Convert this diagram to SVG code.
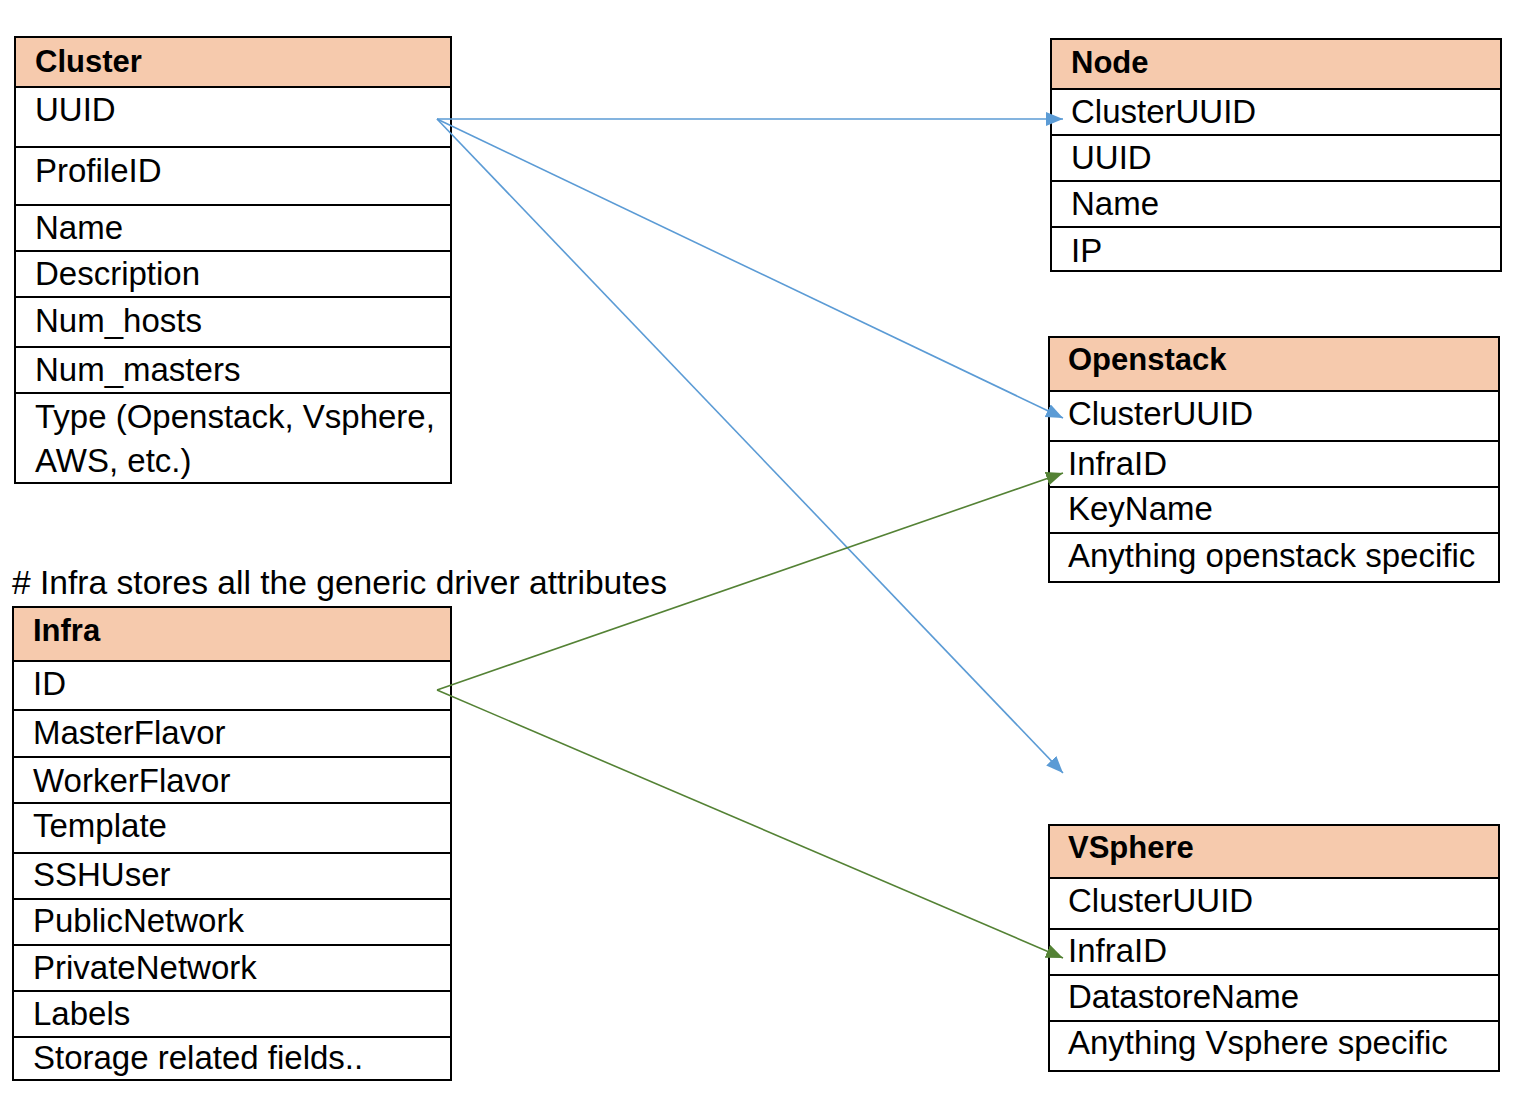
<svg xmlns="http://www.w3.org/2000/svg" width="1518" height="1096" viewBox="0 0 1518 1096">
<defs>
<style>
.hdr{fill:#F6CAAD;stroke:none}
.box{fill:none;stroke:#000;stroke-width:2}
.sep{stroke:#000;stroke-width:2}
text{font-family:"Liberation Sans",Arial,sans-serif;font-size:33px;fill:#000}
.t{font-weight:bold;font-size:31px}
.blue{stroke:#5B9BD5;stroke-width:1.6;fill:none}
.green{stroke:#548235;stroke-width:1.6;fill:none}
</style>
<marker id="ab" markerUnits="userSpaceOnUse" markerWidth="19" markerHeight="15" refX="17" refY="7" orient="auto"><path d="M0,0 L17,7 L0,14 z" fill="#5B9BD5"/></marker>
<marker id="ag" markerUnits="userSpaceOnUse" markerWidth="19" markerHeight="15" refX="17" refY="7" orient="auto"><path d="M0,0 L17,7 L0,14 z" fill="#548235"/></marker>
</defs>
<rect width="1518" height="1096" fill="#fff"/>

<g id="cluster">
<rect class="hdr" x="15" y="37" width="436" height="50"/>
<rect class="box" x="15" y="37" width="436" height="446"/>
<path class="sep" d="M15,87H451M15,147H451M15,205H451M15,251H451M15,297H451M15,347H451M15,393H451"/>
<text class="t" x="35" y="72">Cluster</text>
<text x="35" y="121">UUID</text>
<text x="35" y="182">ProfileID</text>
<text x="35" y="239">Name</text>
<text x="35" y="285">Description</text>
<text x="35" y="332">Num_hosts</text>
<text x="35" y="381">Num_masters</text>
<text x="35" y="428">Type (Openstack, Vsphere,</text>
<text x="35" y="472">AWS, etc.)</text>
</g>

<g id="node">
<rect class="hdr" x="1051" y="39" width="450" height="50"/>
<rect class="box" x="1051" y="39" width="450" height="232"/>
<path class="sep" d="M1051,89H1501M1051,135H1501M1051,181H1501M1051,227H1501"/>
<text class="t" x="1071" y="73">Node</text>
<text x="1071" y="123">ClusterUUID</text>
<text x="1071" y="169">UUID</text>
<text x="1071" y="215">Name</text>
<text x="1071" y="262">IP</text>
</g>

<g id="openstack">
<rect class="hdr" x="1049" y="337" width="450" height="54"/>
<rect class="box" x="1049" y="337" width="450" height="245"/>
<path class="sep" d="M1049,391H1499M1049,441H1499M1049,487H1499M1049,533H1499"/>
<text class="t" x="1068" y="370">Openstack</text>
<text x="1068" y="425">ClusterUUID</text>
<text x="1068" y="475">InfraID</text>
<text x="1068" y="520">KeyName</text>
<text x="1068" y="567">Anything openstack specific</text>
</g>

<g id="comment">
<text x="12" y="594" style="font-size:33.6px"># Infra stores all the generic driver attributes</text>
</g>

<g id="infra">
<rect class="hdr" x="13" y="607" width="438" height="54"/>
<rect class="box" x="13" y="607" width="438" height="473"/>
<path class="sep" d="M13,661H451M13,710H451M13,757H451M13,803H451M13,853H451M13,899H451M13,945H451M13,991H451M13,1037H451"/>
<text class="t" x="33" y="641">Infra</text>
<text x="33" y="695">ID</text>
<text x="33" y="744">MasterFlavor</text>
<text x="33" y="792">WorkerFlavor</text>
<text x="33" y="837">Template</text>
<text x="33" y="886">SSHUser</text>
<text x="33" y="932">PublicNetwork</text>
<text x="33" y="979">PrivateNetwork</text>
<text x="33" y="1025">Labels</text>
<text x="33" y="1069">Storage related fields..</text>
</g>

<g id="vsphere">
<rect class="hdr" x="1049" y="825" width="450" height="53"/>
<rect class="box" x="1049" y="825" width="450" height="246"/>
<path class="sep" d="M1049,878H1499M1049,929H1499M1049,975H1499M1049,1021H1499"/>
<text class="t" x="1068" y="858">VSphere</text>
<text x="1068" y="912">ClusterUUID</text>
<text x="1068" y="962">InfraID</text>
<text x="1068" y="1008">DatastoreName</text>
<text x="1068" y="1054">Anything Vsphere specific</text>
</g>

<g id="connectors">
<line class="blue" x1="437" y1="119" x2="1063" y2="119" marker-end="url(#ab)"/>
<line class="blue" x1="437" y1="119" x2="1063" y2="418" marker-end="url(#ab)"/>
<line class="blue" x1="437" y1="119" x2="1063" y2="773" marker-end="url(#ab)"/>
<line class="green" x1="437" y1="690" x2="1063" y2="473" marker-end="url(#ag)"/>
<line class="green" x1="437" y1="690" x2="1063" y2="958" marker-end="url(#ag)"/>
</g>
</svg>
